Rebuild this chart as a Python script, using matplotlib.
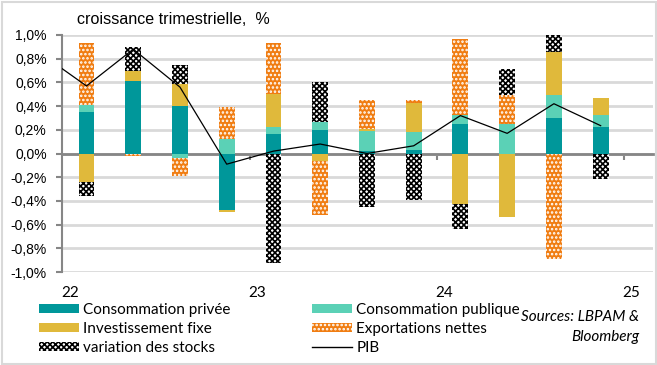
import numpy as np
import matplotlib
matplotlib.use('Agg')
import matplotlib.pyplot as plt
from matplotlib.patches import Patch, Rectangle
from matplotlib.lines import Line2D
import matplotlib.transforms as mtransforms

# quarters 22Q1 .. 24Q4
quarters = ['22T1', '22T2', '22T3', '22T4', '23T1', '23T2', '23T3', '23T4',
            '24T1', '24T2', '24T3', '24T4']
years = ['22', '23', '24', '25']

cons_privee = [0.35, 0.61, 0.40, -0.48, 0.165, 0.20, 0.02, 0.03, 0.25, 0.0, 0.30, 0.225]
cons_publique = [0.06, 0.0, -0.04, 0.125, 0.06, 0.067, 0.17, 0.15, 0.073, 0.25, 0.19, 0.10]
invest_fixe = [-0.24, 0.09, 0.185, -0.01, 0.28, -0.06, 0.02, 0.25, -0.43, -0.54, 0.37, 0.14]
export_nettes = [0.52, -0.02, -0.15, 0.265, 0.43, -0.46, 0.24, 0.02, 0.64, 0.24, -0.89, 0.0]
var_stocks = [-0.12, 0.20, 0.16, 0.0, -0.92, 0.34, -0.45, -0.39, -0.205, 0.22, 0.45, -0.215]
# PIB, first value is 21T4 (outside the visible range)
pib = [0.85, 0.57, 0.88, 0.56, -0.09, 0.02, 0.08, 0.0, 0.065, 0.32, 0.17, 0.42, 0.235]

series = [
    ('Consommation privée', cons_privee, dict(facecolor='#00979A', edgecolor='#00979A')),
    ('Consommation publique', cons_publique, dict(facecolor='#5BD1B6', edgecolor='#5BD1B6')),
    ('Investissement fixe', invest_fixe, dict(facecolor='#E0B93B', edgecolor='#E0B93B')),
    ('Exportations nettes', export_nettes, dict(facecolor='#F07D12', edgecolor='white', hatch='....')),
    ('variation des stocks', var_stocks, dict(facecolor='white', edgecolor='black', hatch='xxxxxx')),
]

plt.rcParams['hatch.linewidth'] = 1.2
txt_font = ['Lato', 'DejaVu Sans']

W, H = 657, 365
fig = plt.figure(figsize=(W / 100, H / 100), dpi=100)
ax = fig.add_axes([62 / W, 1 - 272 / H, (653 - 62) / W, (272 - 35) / H])

x = np.arange(len(quarters))
pos_base = np.zeros(len(quarters))
neg_base = np.zeros(len(quarters))
for name, vals, style in series:
    v = np.array(vals)
    pos = np.where(v > 0, v, 0)
    neg = np.where(v < 0, v, 0)
    ax.bar(x, pos, 0.34, bottom=pos_base, linewidth=0, zorder=3, **style)
    ax.bar(x, neg, 0.34, bottom=neg_base, linewidth=0, zorder=3, **style)
    pos_base += pos
    neg_base += neg

ax.plot(np.arange(-1, len(quarters)), pib, color='black', lw=0.9, zorder=4)

yt = np.round(np.arange(-1.0, 1.01, 0.2), 1) + 0.0
ax.set_xlim(-0.524, 12.12)
ax.set_ylim(-1.0, 1.0)
ax.set_yticks(yt)
ax.set_yticklabels([('%.1f%%' % (t + 0.0)).replace('.', ',').replace('-0,0', '0,0') for t in yt],
                   fontsize=10, family='Liberation Sans')
ax.yaxis.grid(True, color='#D9D9D9', lw=2, zorder=0)
ax.set_axisbelow(True)

for s in ['top', 'right']:
    ax.spines[s].set_visible(False)
ax.spines['left'].set_color('#868686')
ax.spines['left'].set_linewidth(1.5)
ax.spines['bottom'].set_position(('data', 0))
ax.spines['bottom'].set_color('#868686')
ax.spines['bottom'].set_linewidth(2)
ax.spines['bottom'].set_zorder(2)
ax.tick_params(axis='y', length=4, color='#868686', width=1.5, pad=7)
ax.set_xticks([3.5, 7.5, 11.5])
ax.set_xticklabels([])
ax.tick_params(axis='x', length=4, color='#868686', width=1.5)

# year labels under the plot
trans = mtransforms.blended_transform_factory(ax.transData, fig.transFigure)
for i, yr in enumerate(years):
    ax.text(-0.34 + 4 * i, 1 - 293 / H, yr, transform=trans, ha='center', va='center',
            fontsize=11, family=txt_font)

fig.text(77 / W, 1 - 19 / H, 'croissance trimestrielle,  %', ha='left', va='center',
         fontsize=11.6, family='Liberation Sans')

handles = []
for name, vals, style in series:
    handles.append(Patch(label=name, linewidth=0, **style))
handles.append(Line2D([], [], color='black', lw=1, label='PIB'))

leg_kw = dict(frameon=False, loc='upper left', borderaxespad=0, borderpad=0,
              handlelength=2.6, handleheight=0.5, handletextpad=0.3, labelspacing=0.32,
              prop={'family': txt_font, 'size': 11})
leg1 = fig.legend(handles=[handles[0], handles[2], handles[4]], bbox_to_anchor=(39 / W, 1 - 303 / H), **leg_kw)
leg2 = fig.legend(handles=[handles[1], handles[3], handles[5]], bbox_to_anchor=(312 / W, 1 - 303 / H), **leg_kw)

fig.text(639 / W, 1 - 317 / H, 'Sources: LBPAM &', ha='right', va='center', fontsize=11,
         style='italic', family=txt_font)
fig.text(639 / W, 1 - 337 / H, 'Bloomberg', ha='right', va='center', fontsize=11,
         style='italic', family=txt_font)

fig.add_artist(Rectangle((1.5 / W, 1.5 / H), 1 - 3 / W, 1 - 3 / H, transform=fig.transFigure,
                         fill=False, edgecolor='#D9D9D9', lw=1.5))

fig.savefig('out.png', dpi=100, facecolor='white')
